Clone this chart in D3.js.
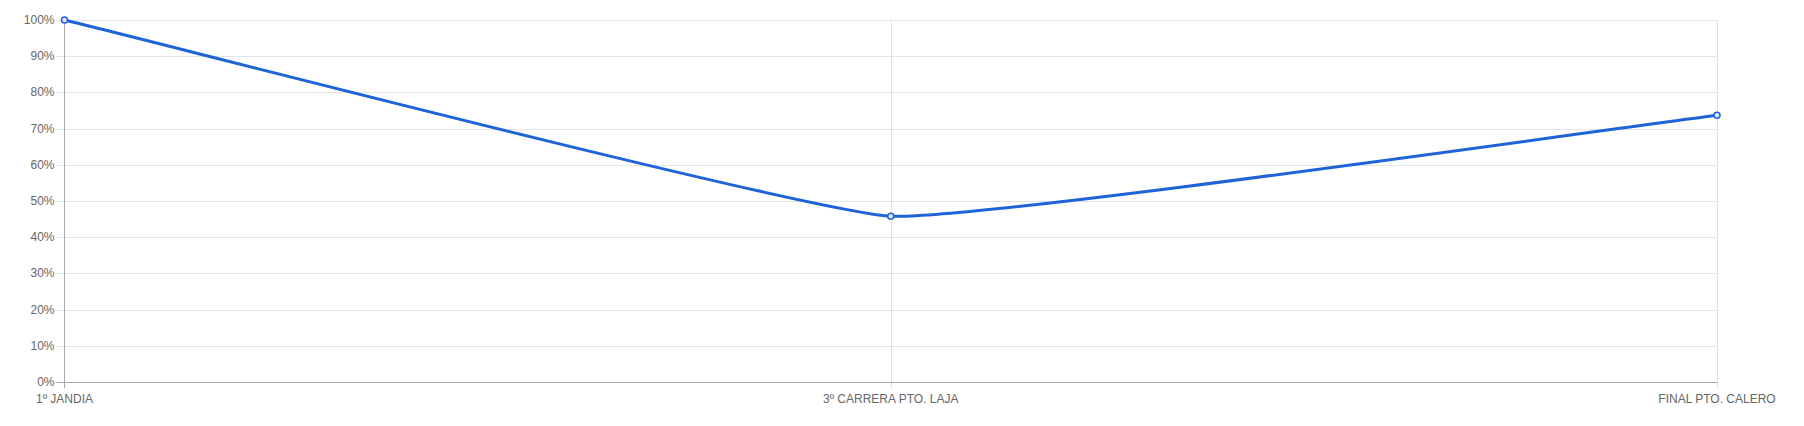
<!DOCTYPE html>
<html>
<head>
<meta charset="utf-8">
<script src="https://cdn.jsdelivr.net/npm/d3@7"></script>
<style>
  body { margin: 0; background: #fff; }
  svg text { font-family: "Liberation Sans", Arial, sans-serif; font-size: 12px; fill: #666; }
</style>
</head>
<body>
<div id="chart"></div>
<script>
// data
let stages = ['1º JANDIA', '3º CARRERA PTO. LAJA', 'FINAL PTO. CALERO'];
let percents = [100, 45.8, 73.7];
let yTicks = [0, 10, 20, 30, 40, 50, 60, 70, 80, 90, 100];

var width = 1804, height = 426;
var margin = {top: 20, right: 87, bottom: 44, left: 64.5};
var tension = 0.1;

let svg = d3.select('#chart').append('svg')
  .attr('width', width).attr('height', height);

let x = d3.scalePoint().domain(stages).range([margin.left, width - margin.right]);
let y = d3.scaleLinear().domain([0, 100]).range([height - margin.bottom, margin.top]);

// horizontal grid
svg.append('g')
  .selectAll('line').data(yTicks).enter().append('line')
  .attr('x1', margin.left - 8).attr('x2', width - margin.right)
  .attr('y1', d => Math.round(y(d)) + 0.5).attr('y2', d => Math.round(y(d)) + 0.5)
  .attr('stroke', '#e4e4e4');

// vertical grid
svg.append('g')
  .selectAll('line').data(stages.slice(1)).enter().append('line')
  .attr('x1', d => Math.round(x(d)) + 0.5).attr('x2', d => Math.round(x(d)) + 0.5)
  .attr('y1', margin.top).attr('y2', height - margin.bottom + 6)
  .attr('stroke', '#e0e0e0');

// y axis labels
svg.append('g')
  .selectAll('text').data(yTicks).enter().append('text')
  .attr('x', margin.left - 10).attr('y', d => y(d) + 4)
  .attr('text-anchor', 'end')
  .text(d => d + '%');

// axis lines
svg.append('line')
  .attr('x1', margin.left).attr('x2', margin.left)
  .attr('y1', margin.top).attr('y2', height - margin.bottom + 6)
  .attr('stroke', '#a8a8a8');
svg.append('line')
  .attr('x1', margin.left - 8).attr('x2', width - margin.right)
  .attr('y1', Math.round(y(0)) + 0.5).attr('y2', Math.round(y(0)) + 0.5)
  .attr('stroke', '#a8a8a8');

// x labels
svg.append('g')
  .selectAll('text').data(stages).enter().append('text')
  .attr('x', d => x(d)).attr('y', height - margin.bottom + 21)
  .attr('text-anchor', 'middle')
  .text(d => d);

// bezier spline with distance weighted tangents
function splinePath(pts, t) {
  let n = pts.length;
  let cps = pts.map((cur, i) => {
    let prev = pts[i - 1] || cur, next = pts[i + 1] || cur;
    let d01 = Math.hypot(cur[0] - prev[0], cur[1] - prev[1]);
    let d12 = Math.hypot(next[0] - cur[0], next[1] - cur[1]);
    let s01 = d01 / (d01 + d12), s12 = d12 / (d01 + d12);
    let fa = t * s01, fb = t * s12;
    return {
      prev: [cur[0] - fa * (next[0] - prev[0]), cur[1] - fa * (next[1] - prev[1])],
      next: [cur[0] + fb * (next[0] - prev[0]), cur[1] + fb * (next[1] - prev[1])]
    };
  });
  let p = d3.path();
  p.moveTo(pts[0][0], pts[0][1]);
  for (let i = 0; i < n - 1; i++) {
    p.bezierCurveTo(cps[i].next[0], cps[i].next[1],
      cps[i + 1].prev[0], cps[i + 1].prev[1],
      pts[i + 1][0], pts[i + 1][1]);
  }
  return p.toString();
}

let pts = percents.map((d, i) => [x(stages[i]), y(d)]);

svg.append('path')
  .attr('d', splinePath(pts, tension))
  .attr('fill', 'none')
  .attr('stroke', '#1f63d9')
  .attr('stroke-width', 3);

svg.append('g')
  .selectAll('circle').data(percents).enter().append('circle')
  .attr('cx', (d, i) => x(stages[i])).attr('cy', d => y(d))
  .attr('r', 3)
  .attr('fill', '#dfe8f8')
  .attr('stroke', '#1f63d9')
  .attr('stroke-width', 1.5);
</script>
</body>
</html>
